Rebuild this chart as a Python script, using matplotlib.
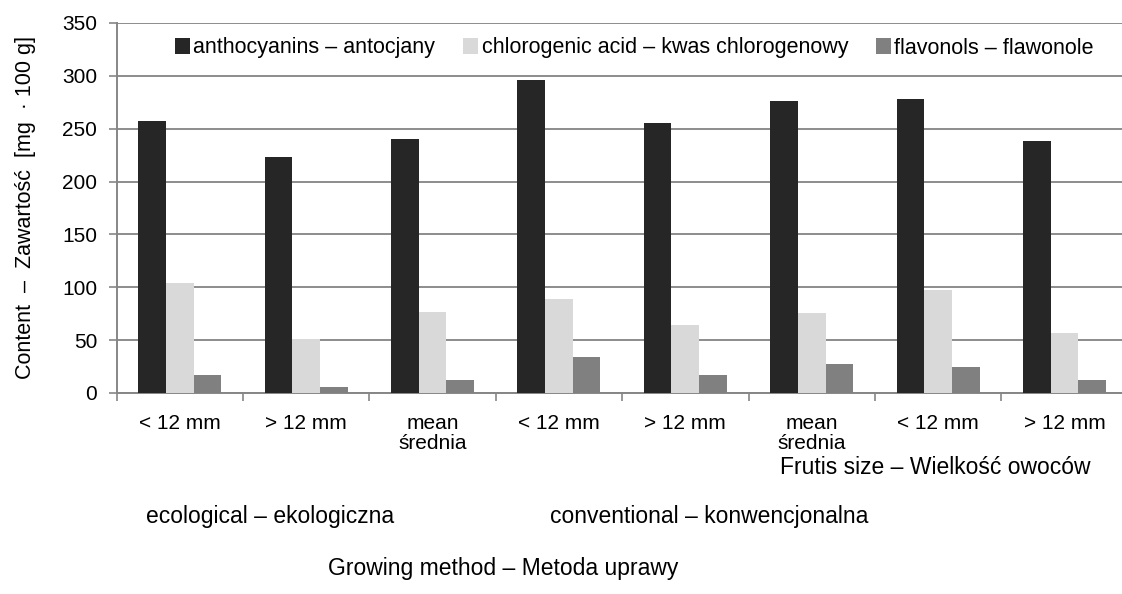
import matplotlib
matplotlib.use("Agg")
import matplotlib.pyplot as plt
import numpy as np

plt.rcParams['font.family'] = ['Liberation Sans', 'DejaVu Sans']

categories = ["< 12 mm", "> 12 mm", "mean\nśrednia", "< 12 mm", "> 12 mm", "mean\nśrednia", "< 12 mm", "> 12 mm"]
series_names = ["anthocyanins – antocjany", "chlorogenic acid – kwas chlorogenowy", "flavonols – flawonole"]
anthocyanins = [257, 223, 240, 296, 255, 276, 278, 238]
chlorogenic = [104, 51, 77, 89, 64, 76, 97, 57]
flavonols = [17, 6, 12, 34, 17, 27, 25, 12]
colors = ["#262626", "#d9d9d9", "#808080"]
yticks = [0, 50, 100, 150, 200, 250, 300, 350]

fig = plt.figure(figsize=(11.22, 5.94), dpi=100)
ax = fig.add_axes([0.104, 0.3384, 0.901, 0.6229])

n = len(categories)
x = np.arange(n)
w = 0.219
for i, (vals, c, name) in enumerate(zip([anthocyanins, chlorogenic, flavonols], colors, series_names)):
    ax.bar(x + (i - 1) * w, vals, width=w, color=c, label=name, zorder=3)

ax.set_xlim(-0.5, n - 0.5)
ax.set_ylim(0, 350)
ax.set_yticks(yticks)
ax.set_yticklabels([str(v) for v in yticks], fontsize=15)
ax.yaxis.grid(True, color="#8c8c8c", linewidth=1.4, zorder=0)
ax.set_axisbelow(True)

ax.set_xticks(np.arange(-0.5, n, 1.0))
ax.set_xticklabels([])
ax.set_xticks(x, minor=True)
ax.set_xticklabels(categories, minor=True, fontsize=15, va="top", linespacing=1.05)
ax.tick_params(axis="x", which="major", length=6, color="#868686", width=1.2, direction="out")
ax.tick_params(axis="x", which="minor", length=0, pad=15)
ax.tick_params(axis="y", length=6, color="#868686", width=1.2, direction="out", pad=8)

for s in ["top", "right"]:
    ax.spines[s].set_visible(False)
for s in ["left", "bottom"]:
    ax.spines[s].set_color("#868686")
    ax.spines[s].set_linewidth(1.4)

ax.set_ylabel("Content  –  Zawartość  [mg  · 100 g]", fontsize=15.5)
ax.yaxis.set_label_coords(-0.080, 0.5)

leg = fig.legend(loc="center", bbox_to_anchor=(0.5655, 1 - 48 / 594), ncol=3, frameon=False,
                 fontsize=15.5, handlelength=0.7, handleheight=0.7, handletextpad=0.15,
                 columnspacing=1.3)

fig.text(1090 / 1122, 1 - 467 / 594, "Frutis size – Wielkość owoców", fontsize=16.5, ha="right", va="center")
fig.text(270 / 1122, 1 - 516 / 594, "ecological – ekologiczna", fontsize=16.5, ha="center", va="center")
fig.text(709 / 1122, 1 - 516 / 594, "conventional – konwencjonalna", fontsize=16.5, ha="center", va="center")
fig.text(503 / 1122, 1 - 568 / 594, "Growing method – Metoda uprawy", fontsize=16.5, ha="center", va="center")

fig.savefig("out.png", dpi=100)
